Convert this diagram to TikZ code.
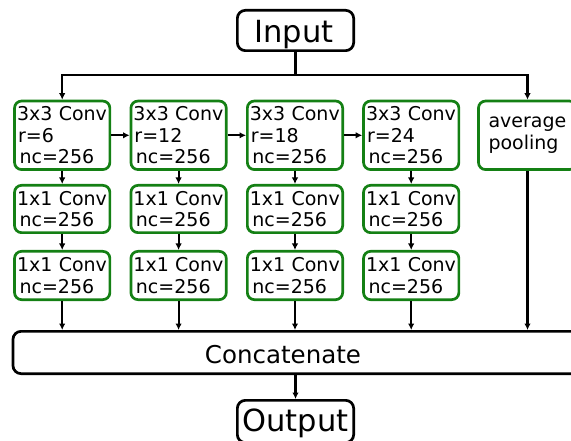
\documentclass[tikz,border=0pt]{standalone}
\usepackage{fontspec}
\setmainfont{DejaVu Sans}
\usetikzlibrary{arrows.meta}
\definecolor{boxgreen}{RGB}{20,128,20}
% small indents for the parameter lines inside the boxes
\newcommand{\rline}[1]{\hspace*{1pt}#1}
\newcommand{\ncline}[1]{\hspace*{2.5pt}#1}
\begin{document}
\begin{tikzpicture}[x=1pt,y=-1pt,
  plain/.style={line width=2.2pt},
  conn/.style={line width=2.2pt,-{Latex[length=6.5pt,width=6.5pt]}},
  gbox/.style={draw=boxgreen,line width=2.7pt,rounded corners=7pt,
    inner xsep=2.5pt,inner ysep=0pt,text width=90.3pt,align=left,
    font=\fontsize{19}{21.3}\selectfont},
  tallbox/.style={gbox,minimum height=68.5pt},
  midbox/.style={gbox,minimum height=47.3pt},
  lowbox/.style={gbox,minimum height=48.3pt},
  bigbox/.style={draw=black,line width=2.7pt,rounded corners=8pt,inner sep=0pt},
  bigtext/.style={anchor=base,inner sep=0pt,font=\fontsize{30.5}{34}\selectfont},
]
\useasboundingbox (0,0) rectangle (571,441);
\clip (0,0) rectangle (571,441);

% input and the bus that feeds the branches
\node[bigbox,minimum width=116.3pt,minimum height=40.3pt] (input) at (295.5,30.5) {};
\node[bigtext] (inputlabel) at (294,42.7) {Input};
\coordinate (split) at (295.5,75);

% first row: dilated convolutions and pooling
\node[tallbox] (a1) at (62.2,135.3) {3x3~Conv\\\rline{r=6}\\\ncline{nc=256}};
\node[tallbox] (a2) at (178.6,135.3) {3x3~Conv\\\rline{r=12}\\\ncline{nc=256}};
\node[tallbox] (a3) at (295,135.3) {3x3~Conv\\\rline{r=18}\\\ncline{nc=256}};
\node[tallbox] (a4) at (411.2,135.3) {3x3~Conv\\\rline{r=24}\\\ncline{nc=256}};
\node[tallbox,inner xsep=10pt,text width=78pt] (avg) at (527.5,135.3) {average\\pooling};

% second and third rows: 1x1 convolutions
\foreach \i/\x in {1/62.2,2/178.6,3/295,4/411.2}{
  \node[midbox] (b\i) at (\x,209) {1x1~Conv\\\ncline{nc=256}};
  \node[lowbox] (c\i) at (\x,275.5) {1x1~Conv\\\ncline{nc=256}};
}

% concatenation and output
\node[bigbox,minimum width=587pt,minimum height=42.3pt] (concat) at (306.5,352.5) {};
\node[anchor=base,inner sep=0pt,font=\fontsize{24.5}{28}\selectfont] (concatlabel) at (283,363.3) {Concatenate};
\node[bigbox,minimum width=116.3pt,minimum height=42.3pt] (output) at (295.5,421.5) {};
\node[bigtext] (outputlabel) at (295.5,431) {Output};

% connectors
\draw[plain] (input) -- (split);
\draw[conn] (split) -| (a1.north);
\draw[conn] (split) -| (avg.north);
\draw[conn] (a1) -- (a2);
\draw[conn] (a2) -- (a3);
\draw[conn] (a3) -- (a4);
\foreach \i in {1,2,3,4}{
  \draw[conn] (a\i) -- (b\i);
  \draw[conn] (b\i) -- (c\i);
  \draw[conn] (c\i.south) -- (c\i.south |- concat.north);
}
\draw[conn] (avg.south) -- (avg.south |- concat.north);
\draw[conn] (input.center |- concat.south) -- (output.north);
\end{tikzpicture}
\end{document}
